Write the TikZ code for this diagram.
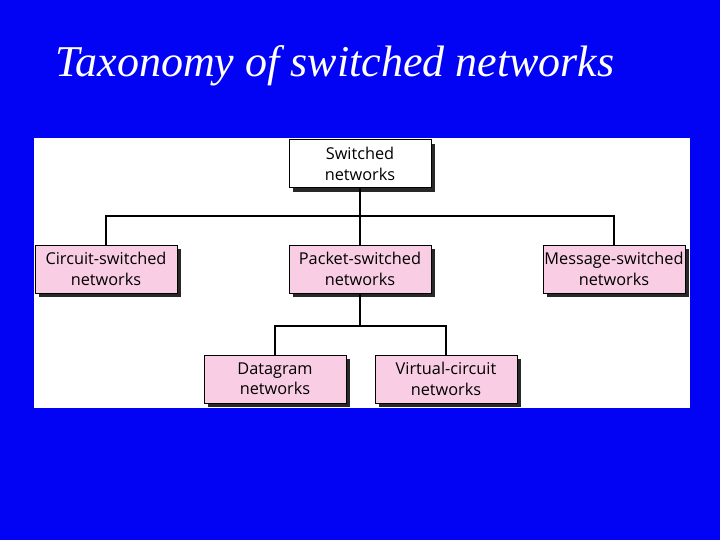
\documentclass[tikz,border=0pt]{standalone}
\usepackage{fontspec}
\setmainfont{Liberation Serif}
\newfontfamily\boxfont{Open Sans}
\definecolor{slideblue}{RGB}{2,2,245}
\definecolor{boxpink}{RGB}{249,205,228}
\definecolor{shadowgray}{RGB}{40,40,40}
\tikzset{
  tbox/.style={draw=black, line width=1pt, fill=boxpink, minimum width=142pt, minimum height=48pt,
    align=center, font=\boxfont\fontsize{16.3}{20.5}\selectfont, inner sep=0pt,
    shadowed},
  shadowed/.style={preaction={fill=shadowgray, transform canvas={shift={(4pt,-4pt)}}}},
  conn/.style={draw=black, line width=1.6pt}
}
\begin{document}
\begin{tikzpicture}[x=1pt,y=-1pt]
\fill[slideblue] (0,0) rectangle (720,540);
\useasboundingbox (0,0) rectangle (720,540);
\node[anchor=base west, text=white, font=\itshape\fontsize{44}{48}\selectfont, inner sep=0pt] (title) at (55,77) {Taxonomy of switched networks};
\fill[white] (34,138) rectangle (690,408);
\node[tbox, fill=white] (sw) at (360,164) {Switched\\networks};
\node[tbox] (cs) at (106,269) {Circuit-switched\\networks};
\node[tbox] (ps) at (360,269) {Packet-switched\\networks};
\node[tbox] (ms) at (614,269) {Message-switched\\networks};
\node[tbox] (dg) at (275,379) {Datagram\\networks};
\node[tbox] (vc) at (446,379) {Virtual-circuit\\networks};
\coordinate (j1) at (360,216);
\coordinate (j2) at (360,326);
\draw[conn] (sw.south) -- (j1);
\draw[conn] (cs.north) |- (j1) -| (ms.north);
\draw[conn] (j1) -- (ps.north);
\draw[conn] (ps.south) -- (j2);
\draw[conn] (dg.north) |- (j2) -| (vc.north);
\end{tikzpicture}
\end{document}
